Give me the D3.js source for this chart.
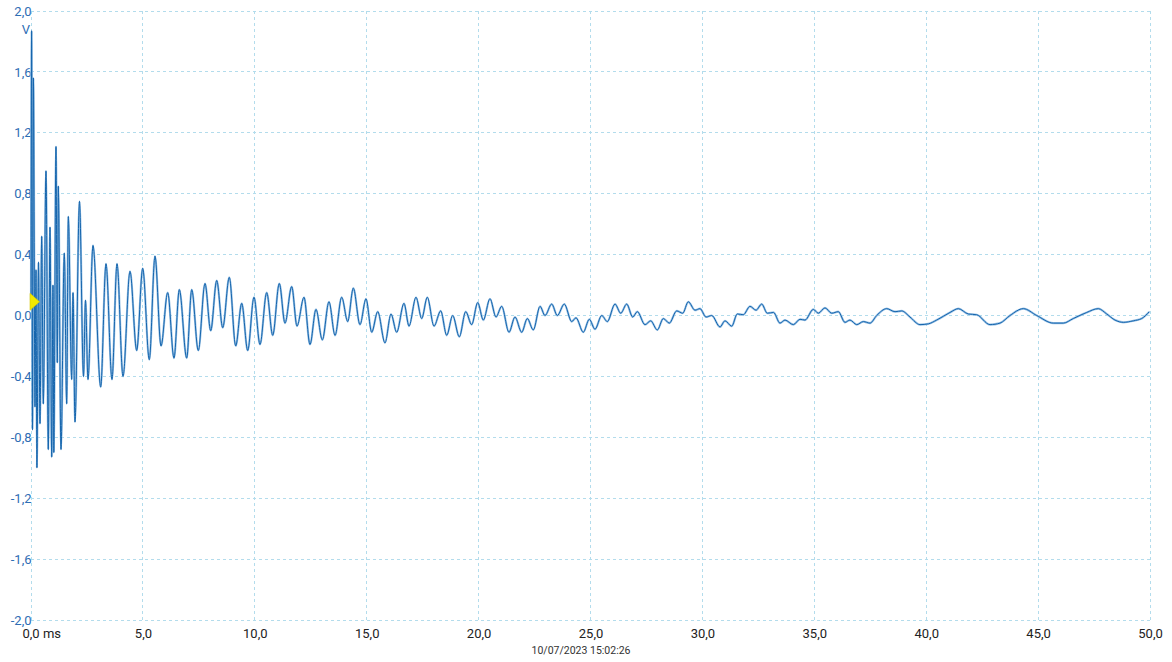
<!DOCTYPE html>
<html>
<head>
<meta charset="utf-8">
<script src="https://cdn.jsdelivr.net/npm/d3@7"></script>
<style>
  html, body { margin: 0; padding: 0; background: #ffffff; }
  svg { display: block; font-family: Roboto, "Noto Sans", sans-serif; }
</style>
</head>
<body>
<svg id="chart" width="1172" height="662"></svg>
<script>
// ---- data ----
const timeMs = [
  0.000, 0.027, 0.067, 0.107, 0.179, 0.223, 0.264, 0.335, 0.402, 0.478,
  0.550, 0.670, 0.773, 0.849, 0.925, 0.983, 1.019, 1.117, 1.175, 1.220,
  1.340, 1.488, 1.595, 1.667, 1.819, 1.877, 1.966, 2.167, 2.346, 2.435,
  2.547, 2.770, 3.114, 3.351, 3.619, 3.843, 4.111, 4.424, 4.723, 4.991,
  5.286, 5.541, 5.809, 6.108, 6.390, 6.627, 6.957, 7.181, 7.475, 7.775,
  8.030, 8.298, 8.566, 8.861, 9.147, 9.415, 9.683, 9.964, 10.232, 10.532,
  10.800, 11.095, 11.349, 11.649, 11.886, 12.198, 12.466, 12.735, 13.016, 13.316,
  13.584, 13.883, 14.151, 14.401, 14.701, 14.969, 15.223, 15.492, 15.818, 16.086,
  16.340, 16.667, 16.890, 17.203, 17.458, 17.708, 18.007, 18.307, 18.575, 18.843,
  19.138, 19.424, 19.692, 19.960, 20.210, 20.509, 20.777, 21.032, 21.358, 21.626,
  21.926, 22.176, 22.444, 22.744, 22.967, 23.266, 23.517, 23.829, 24.160, 24.352,
  24.678, 24.946, 25.201, 25.501, 25.751, 26.095, 26.350, 26.618, 26.886, 27.092,
  27.435, 27.690, 27.985, 28.253, 28.521, 28.852, 29.120, 29.370, 29.669, 29.893,
  30.161, 30.416, 30.786, 31.010, 31.309, 31.559, 31.827, 32.127, 32.395, 32.650,
  32.900, 33.177, 33.467, 33.691, 34.062, 34.361, 34.584, 34.956, 35.179, 35.478,
  35.777, 36.072, 36.372, 36.595, 36.895, 37.190, 37.489, 37.788, 38.235, 38.606,
  38.905, 39.276, 39.723, 40.094, 40.469, 41.064, 41.434, 41.881, 42.257, 42.851,
  43.298, 43.745, 44.339, 44.938, 45.679, 46.126, 46.573, 47.172, 47.690, 48.066,
  48.436, 48.808, 49.254, 49.629, 49.969
];
const volts = [
  0.10, 1.87, -0.75, 1.56, -0.60, 0.30, -1.00, 0.35, -0.71, 0.52,
  -0.58, 0.95, -0.88, 0.58, -0.93, 0.20, -0.90, 1.11, -0.31, 0.85,
  -0.88, 0.41, -0.58, 0.65, -0.42, 0.15, -0.70, 0.75, -0.40, 0.10,
  -0.42, 0.46, -0.47, 0.34, -0.42, 0.34, -0.40, 0.29, -0.23, 0.31,
  -0.29, 0.39, -0.20, 0.15, -0.28, 0.17, -0.28, 0.17, -0.23, 0.21,
  -0.10, 0.23, -0.08, 0.25, -0.20, 0.08, -0.23, 0.12, -0.19, 0.15,
  -0.13, 0.21, -0.05, 0.19, -0.07, 0.12, -0.19, 0.04, -0.16, 0.09,
  -0.13, 0.12, -0.04, 0.18, -0.06, 0.11, -0.11, 0.025, -0.18, 0.01,
  -0.11, 0.08, -0.07, 0.12, -0.02, 0.12, -0.07, 0.03, -0.13, 0.00,
  -0.14, 0.025, -0.06, 0.085, -0.03, 0.11, -0.01, 0.06, -0.11, -0.01,
  -0.11, -0.02, -0.095, 0.06, 0.00, 0.075, 0.00, 0.075, -0.04, -0.015,
  -0.11, -0.025, -0.09, 0.00, -0.04, 0.075, 0.015, 0.075, -0.01, 0.025,
  -0.06, -0.035, -0.095, -0.02, -0.05, 0.03, 0.015, 0.09, 0.035, 0.045,
  -0.01, 0.00, -0.075, -0.035, -0.07, 0.01, 0.005, 0.06, 0.035, 0.075,
  0.015, 0.02, -0.05, -0.03, -0.06, -0.025, -0.03, 0.04, 0.015, 0.05,
  0.015, 0.025, -0.045, -0.03, -0.06, -0.04, -0.05, 0.00, 0.045, 0.025,
  0.03, -0.01, -0.06, -0.055, -0.03, 0.02, 0.045, 0.01, 0.005, -0.06,
  -0.05, 0.00, 0.045, 0.00, -0.05, -0.05, -0.02, 0.02, 0.045, 0.01,
  -0.03, -0.045, -0.035, -0.02, 0.025
];
const xTicks = [0, 5, 10, 15, 20, 25, 30, 35, 40, 45, 50];
const yTicks = [-2.0, -1.6, -1.2, -0.8, -0.4, 0.0, 0.4, 0.8, 1.2, 1.6, 2.0];
const xUnit = "ms";
const yUnit = "V";
const triggerTime = 0;
const triggerLevel = 0.09;
const timestamp = "10/07/2023 15:02:26";

// ---- layout ----
const W = 1172, H = 662;
const margin = { left: 31, right: 22, top: 11, bottom: 42 };
const svg = d3.select("#chart");

const x = d3.scaleLinear().domain([0, 50]).range([margin.left, W - margin.right]);
const y = d3.scaleLinear().domain([-2, 2]).range([H - margin.bottom, margin.top]);

const locale = d3.formatLocale({ decimal: ",", thousands: ".", grouping: [3], currency: ["", ""], minus: "-" });
const fmt = locale.format(".1f");

const gridColor = "#b3dcec";

// gridlines
svg.append("g").selectAll("line").data(xTicks).join("line")
  .attr("x1", d => x(d)).attr("x2", d => x(d))
  .attr("y1", y(2)).attr("y2", y(-2))
  .attr("stroke", gridColor).attr("stroke-width", 1)
  .attr("stroke-dasharray", "3,3")
  .attr("shape-rendering", "crispEdges");
svg.append("g").selectAll("line").data(yTicks).join("line")
  .attr("x1", x(0)).attr("x2", x(50))
  .attr("y1", d => y(d)).attr("y2", d => y(d))
  .attr("stroke", gridColor).attr("stroke-width", 1)
  .attr("stroke-dasharray", "3,3")
  .attr("shape-rendering", "crispEdges");

// y tick labels
const yAxis = d3.axisLeft(y).tickValues(yTicks).tickFormat(fmt).tickSize(0).tickPadding(0);
const gy = svg.append("g").attr("transform", `translate(${x(0) + 0.5},0)`).call(yAxis);
gy.select(".domain").remove();
gy.selectAll("text").attr("fill", "#2e6db4").attr("font-size", 13)
  .attr("font-family", "Roboto, sans-serif");

// y unit
svg.append("text").attr("x", x(0) - 1).attr("y", y(2) + 23)
  .attr("text-anchor", "end").attr("fill", "#2e6db4").attr("font-size", 13)
  .attr("font-family", "Roboto, sans-serif").text(yUnit);

// x tick labels
const xAxis = d3.axisBottom(x).tickValues(xTicks)
  .tickFormat((d, i) => i === 0 ? fmt(d) + " " + xUnit : fmt(d))
  .tickSize(0).tickPadding(0);
const gx = svg.append("g").attr("transform", `translate(0,${y(-2)})`).call(xAxis);
gx.select(".domain").remove();
gx.selectAll("text").attr("fill", "#222").attr("font-size", 13)
  .attr("font-family", "Roboto, sans-serif").attr("dy", "1.05em").attr("y", 4);
gx.selectAll(".tick").filter((d, i) => i === 0).select("text")
  .attr("text-anchor", "start").attr("x", -9);

// timestamp
svg.append("text").attr("x", 581).attr("y", 654)
  .attr("text-anchor", "middle").attr("fill", "#333").attr("font-size", 10.5)
  .attr("font-family", "Roboto, sans-serif").text(timestamp);

// trace
const pts = timeMs.map((t, i) => [t, volts[i]]);
const line = d3.line().x(d => x(d[0])).y(d => y(d[1])).curve(d3.curveMonotoneX);
svg.append("path").datum(pts).attr("d", line)
  .attr("fill", "none").attr("stroke", "#9cc3e6").attr("stroke-width", 2.2)
  .attr("stroke-linejoin", "round");
svg.append("path").datum(pts).attr("d", line)
  .attr("fill", "none").attr("stroke", "#1565ad").attr("stroke-width", 1.0)
  .attr("stroke-linejoin", "round");

// trigger marker
const tx = x(triggerTime), ty = y(triggerLevel);
svg.append("path")
  .attr("d", `M${tx - 1},${ty - 8.5} L${tx + 8.5},${ty} L${tx - 1},${ty + 8.5} Z`)
  .attr("fill", "#f3ea00").attr("stroke", "#d8c800").attr("stroke-width", 0.6);
</script>
</body>
</html>
